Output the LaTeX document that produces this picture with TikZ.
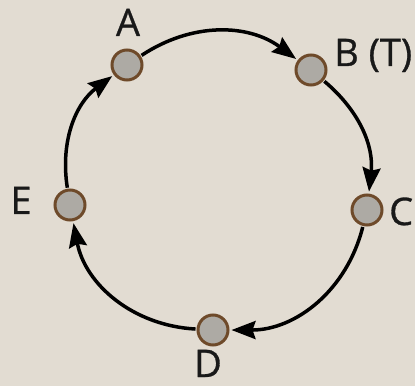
\documentclass[tikz,border=0pt]{standalone}
\usepackage{fontspec}
\setmainfont{Open Sans}
\newfontfamily\lblfont[FakeBold=0.8]{Open Sans}
\usetikzlibrary{arrows.meta}
\definecolor{paper}{HTML}{E2DCD2}
\definecolor{vgray}{HTML}{ADAAA4}
\definecolor{vbrown}{HTML}{6E4A2A}
\begin{document}
\begin{tikzpicture}[x=1pt,y=1pt,
  vtx/.style={circle, draw=vbrown, fill=vgray, line width=3pt, minimum size=30pt, inner sep=0pt},
  lbl/.style={font=\lblfont\fontsize{38}{40}\selectfont, inner sep=0pt, text=black!90},
  arcedge/.style={line width=3.5pt, -{Stealth[length=24pt,width=18pt,inset=3pt]}, shorten >=2pt, shorten <=1pt}]
\fill[paper] (0,0) rectangle (415,386);
\useasboundingbox (0,0) rectangle (415,386);
\node[vtx] (A) at (127,321) {};
\node[vtx] (B) at (311,316) {};
\node[vtx] (C) at (367,176) {};
\node[vtx] (D) at (213,56) {};
\node[vtx] (E) at (70,181) {};
\node[lbl, anchor=base] (la) at (128,350) {A};
\node[lbl, anchor=base west] (lb) at (334,320) {B (T)};
\node[lbl, anchor=base west] (lc) at (389,161) {C};
\node[lbl, anchor=base] (ld) at (208,9) {D};
\node[lbl, anchor=base] (le) at (21,172) {E};
\draw[arcedge] (A) to[bend left=35] (B);
\draw[arcedge] (B) to[bend left=28] (C);
\draw[arcedge] (C) to[bend left=38] (D);
\draw[arcedge] (D) to[bend left=38] (E);
\draw[arcedge] (E) to[bend left=31] (A);
\end{tikzpicture}
\end{document}
